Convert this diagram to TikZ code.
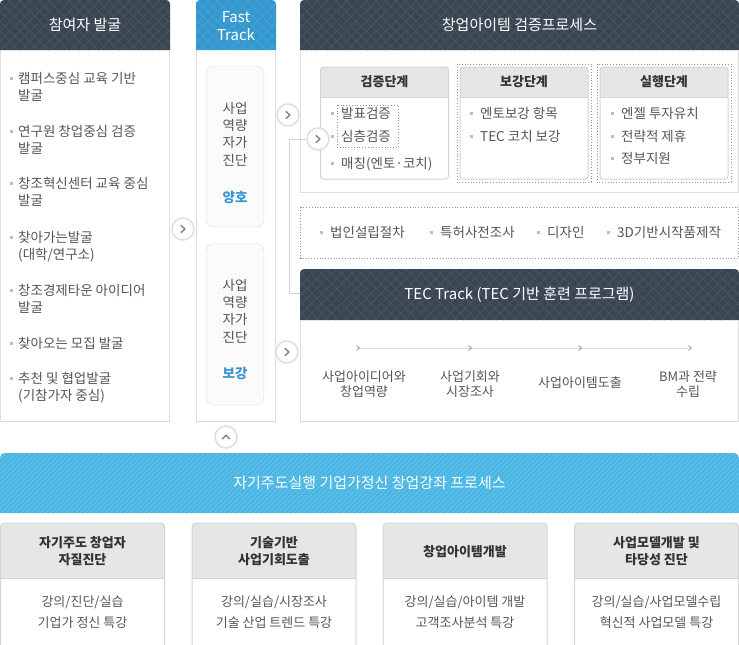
\documentclass[tikz,border=0pt]{standalone}
\usepackage{fontspec}
\setmainfont{Noto Sans CJK KR}
\usetikzlibrary{patterns.meta}
\definecolor{headdark}{RGB}{58, 69, 82}
\definecolor{headhatch}{RGB}{72, 84, 98}
\definecolor{fastblue}{RGB}{52, 152, 206}
\definecolor{fasthatch}{RGB}{68, 163, 214}
\definecolor{bannerblue}{RGB}{86, 190, 232}
\definecolor{bannerhatch}{RGB}{70, 176, 222}
\definecolor{boxgray}{RGB}{230, 230, 230}
\definecolor{boxline}{RGB}{212, 212, 212}
\definecolor{panelline}{RGB}{222, 222, 222}
\definecolor{textgray}{RGB}{85, 85, 85}
\definecolor{titlegray}{RGB}{51, 51, 51}
\definecolor{okblue}{RGB}{58, 150, 210}
\definecolor{dotgray}{RGB}{150, 150, 150}
\definecolor{bulletgray}{RGB}{190, 190, 190}
\tikzset{
    darkhatch/.style={fill=headdark,
        postaction={pattern={Lines[angle=45,distance=7pt,line width=.8pt]},pattern color=headhatch},
        postaction={pattern={Lines[angle=-45,distance=7pt,line width=.8pt]},pattern color=headhatch}},
    bluehatch/.style={fill=fastblue,
        postaction={pattern={Lines[angle=45,distance=7pt,line width=.8pt]},pattern color=fasthatch},
        postaction={pattern={Lines[angle=-45,distance=7pt,line width=.8pt]},pattern color=fasthatch}},
    stripehatch/.style={fill=bannerblue,
        postaction={pattern={Lines[angle=45,distance=3.5pt,line width=1pt]},pattern color=bannerhatch}},
    panelframe/.style={draw=panelline, line width=1pt},
    boxframe/.style={draw=boxline, line width=1pt},
    dotframe/.style={draw=dotgray, line width=.8pt, dash pattern=on .8pt off 2pt},
    headtitle/.style={text=white, font=\fontsize{15}{18}\selectfont, align=center, inner sep=0pt},
    boxtitle/.style={text=titlegray, font=\fontsize{13}{17}\selectfont\bfseries, align=center, inner sep=0pt},
    listtext/.style={anchor=base west, text=textgray, font=\fontsize{13.5}{17.5}\selectfont, align=left, inner sep=0pt},
    steptext/.style={text=textgray, font=\fontsize{13}{15}\selectfont, align=center, inner sep=0pt},
    bodytext/.style={text=textgray, font=\fontsize{13}{21}\selectfont, align=center, inner sep=0pt},
    cardtext/.style={text=textgray, font=\fontsize{13.5}{17.4}\selectfont, align=center, inner sep=0pt},
    cardstate/.style={text=okblue, font=\fontsize{13.5}{17}\selectfont\bfseries, inner sep=0pt},
    fastcard/.style={draw=panelline, fill=gray!3, rounded corners=8pt, minimum width=58pt,
        minimum height=161pt, inner sep=0pt,
        postaction={pattern={Dots[distance=4pt,radius=.5pt]},pattern color=gray!14}},
    stagebox/.style={draw=boxline, line width=1pt, rounded corners=3pt, minimum width=128pt,
        minimum height=112pt, inner sep=0pt},
    btn/.style={circle, draw=panelline, line width=1.5pt, fill=white, minimum size=22pt, inner sep=0pt},
    chev/.style={draw=gray, line width=1.4pt, line cap=round, line join=round},
    chevright/.pic={\draw[chev] (-1.8,-3.5) -- (1.8,0) -- (-1.8,3.5);},
    chevup/.pic={\draw[chev] (-3.5,1.8) -- (0,-1.8) -- (3.5,1.8);},
    chevsmall/.pic={\draw[draw=gray!80, line width=.8pt] (-1.5,-2.5) -- (1.5,0) -- (-1.5,2.5);},
    sqbullet/.pic={\fill[bulletgray] (-1.5,-1.5) rectangle (1.5,1.5);},
}

\begin{document}
\begin{tikzpicture}[x=1pt,y=-1pt]
    \useasboundingbox (0,0) rectangle (739,645);

    % Participant discovery column
    \fill[darkhatch, rounded corners=4pt] (0,50) -- (0,0) -- (170,0) -- (170,50);
    \draw[panelframe] (0.5,50) -- (0.5,421.5) -- (169.5,421.5) -- (169.5,50);
    \node[headtitle] (findtitle) at (85,25) {참여자 발굴};
    \foreach \i/\y/\n/\txt in {1/78/2/{캠퍼스중심 교육 기반\\발굴}, 2/131/2/{연구원 창업중심 검증\\발굴},
        3/183/2/{창조혁신센터 교육 중심\\발굴}, 4/237/2/{찾아가는발굴\\(대학/연구소)},
        5/290/2/{창조경제타운 아이디어\\발굴}, 6/343/1/{찾아오는 모집 발굴},
        7/378/2/{추천 및 협업발굴\\(기참가자 중심)}} {
        \pic at (11,\y) {sqbullet};
        \node[listtext] (find\i) at (18,\y+5+\n*17.5-17.5) {\txt};
    }

    % Fast Track column
    \fill[bluehatch, rounded corners=4pt] (196,50) -- (196,0) -- (276,0) -- (276,50);
    \draw[panelframe] (196.5,50) -- (196.5,421.5) -- (275.5,421.5) -- (275.5,50);
    \node[headtitle] (fasttitle) at (236,26) {Fast\\Track};
    \node[fastcard] (cardgood) at (235,146.5) {};
    \node[fastcard] (cardweak) at (235,324) {};
    \node[cardtext] (selfgood) at (235,134) {사업\\역량\\자가\\진단};
    \node[cardstate] (stategood) at (235,197) {양호};
    \node[cardtext] (selfweak) at (235,311) {사업\\역량\\자가\\진단};
    \node[cardstate] (stateweak) at (235,373) {보강};

    % Item verification process
    \fill[darkhatch, rounded corners=4pt] (300,50) -- (300,0) -- (739,0) -- (739,50);
    \draw[panelframe] (300.5,50) -- (300.5,192.5) -- (738.5,192.5) -- (738.5,50);
    \node[headtitle] (verifytitle) at (519.5,25) {창업아이템 검증프로세스};
    \foreach \x/\name/\ttl in {320.5/check/검증단계, 460/boost/보강단계, 600/run/실행단계} {
        \fill[boxgray, rounded corners=3pt] (\x,97) -- (\x,67) -- (\x+128,67) -- (\x+128,97);
        \draw[boxframe] (\x,97) -- (\x+128,97);
        \node[stagebox] (stage\name) at (\x+64,123) {};
        \node[boxtitle] (title\name) at (\x+64,82) {\ttl};
    }
    \draw[dotframe] (457,64) rectangle (591,182);
    \draw[dotframe] (597,64) rectangle (731,182);
    \draw[dotframe] (337,105) rectangle (398,147);
    \foreach \i/\x/\y/\txt in {1/341/113/발표검증, 2/341/136/심층검증, 3/341/163/매칭(엔토·코치),
        4/480/113/엔토보강 항목, 5/480/136/TEC 코치 보강,
        6/621/113/엔젤 투자유치, 7/621/136/전략적 제휴, 8/621/158/정부지원} {
        \pic at (\x-8.5,\y) {sqbullet};
        \node[listtext] (stageitem\i) at (\x,\y+5) {\txt};
    }

    % Support items
    \draw[dotframe] (300.5,207) rectangle (738.5,258);
    \foreach \i/\x/\txt in {1/330/법인설립절차, 2/440/특허사전조사, 3/547/디자인, 4/617/3D기반시작품제작} {
        \pic at (\x-8.5,232) {sqbullet};
        \node[listtext] (support\i) at (\x,237) {\txt};
    }

    % TEC Track
    \fill[darkhatch, rounded corners=4pt] (300,320) -- (300,269) -- (739,269) -- (739,320);
    \draw[panelframe] (300.5,320) -- (300.5,421.5) -- (738.5,421.5) -- (738.5,320);
    \node[headtitle] (tectitle) at (519.5,295) {TEC Track (TEC 기반 훈련 프로그램)};
    \coordinate (stepA) at (358,348);
    \coordinate (stepB) at (470,348);
    \coordinate (stepC) at (580,348);
    \coordinate (stepD) at (690,348);
    \draw[draw=panelline, line width=1pt] (stepA) -- (stepD);
    \foreach \s in {A,B,C,D}
        \pic at (step\s) {chevsmall};
    \node[steptext] (lblA) at (364,384.5) {사업아이디어와\\창업역량};
    \node[steptext] (lblB) at (470,384.5) {사업기회와\\시장조사};
    \node[steptext] (lblC) at (580,383) {사업아이템도출};
    \node[steptext] (lblD) at (688,384.5) {BM과 전략\\수립};

    % Buttons and link
    \coordinate (elbow) at (289,293);
    \coordinate (tecin) at (300,293);
    \node[btn] (btnA) at (183,229) {};
    \node[btn] (btnB) at (288,115) {};
    \node[btn] (btnC) at (318,139) {};
    \node[btn] (btnD) at (287,352) {};
    \node[btn] (btnE) at (226,437) {};
    \draw[draw=boxline, line width=1pt] (btnC.west) -| (elbow) -- (tecin);
    \foreach \b in {A,B,C,D}
        \pic at (btn\b) {chevright};
    \pic at (btnE) {chevup};

    % Start-up course process
    \fill[stripehatch, rounded corners=5pt] (0,513) -- (0,453) -- (739,453) -- (739,513);
    \node[headtitle] (coursetitle) at (369.5,483) {자기주도실행 기업가정신 창업강좌 프로세스};
    \foreach \i/\x/\ttl/\txt in {1/0.5/{자기주도 창업자\\자질진단}/{강의/진단/실습\\기업가 정신 특강},
        2/192/{기술기반\\사업기회도출}/{강의/실습/시장조사\\기술 산업 트렌드 특강},
        3/383/{창업아이템개발}/{강의/실습/아이템 개발\\고객조사분석 특강},
        4/574.5/{사업모델개발 및\\타당성 진단}/{강의/실습/사업모델수립\\혁신적 사업모델 특강}} {
        \fill[boxgray, rounded corners=4pt] (\x,578) -- (\x,523) -- (\x+164,523) -- (\x+164,578);
        \draw[boxframe, rounded corners=4pt] (\x,645) -- (\x,523) -- (\x+164,523) -- (\x+164,645);
        \draw[boxframe] (\x,578) -- (\x+164,578);
        \node[boxtitle] (course\i) at (\x+82,551.5) {\ttl};
        \node[bodytext] (coursebody\i) at (\x+82,612.5) {\txt};
    }
\end{tikzpicture}
\end{document}
